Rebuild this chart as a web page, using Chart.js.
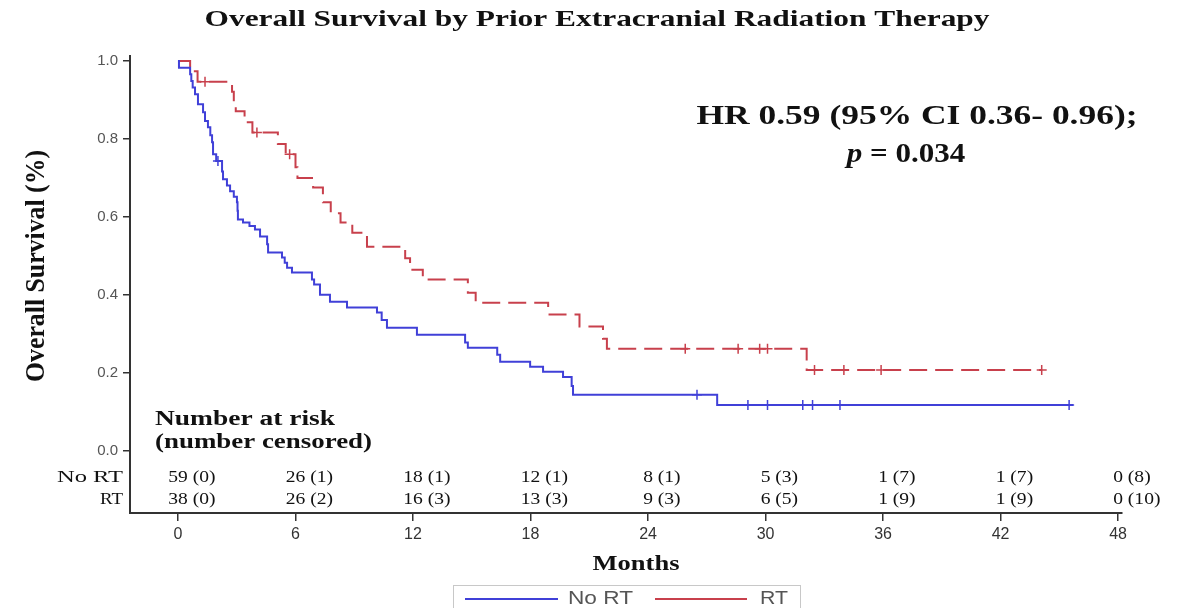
<!DOCTYPE html>
<html>
<head>
<meta charset="utf-8">
<script src="https://cdn.jsdelivr.net/npm/chart.js@4.4.0/dist/chart.umd.min.js"></script>
<style>
  html, body { margin: 0; padding: 0; background: #fff; }
  #wrap { width: 1192px; height: 608px; }
</style>
</head>
<body>
<div id="wrap"><canvas id="km" width="1192" height="608"></canvas></div>
<script>
// Kaplan-Meier steps (months, survival)
const noRtMonths = [0, 0.05, 0.62, 0.68, 0.75, 0.87, 1.02, 1.28, 1.38, 1.53, 1.65, 1.74, 1.79, 1.95, 2.25, 2.30, 2.50, 2.66, 2.85, 3.01, 3.04, 3.06, 3.32, 3.65, 3.93, 4.19, 4.55, 4.60, 5.31, 5.45, 5.57, 5.82, 6.84, 6.95, 7.25, 7.76, 8.63, 10.16, 10.40, 10.67, 12.2, 14.66, 14.8, 16.3, 16.45, 17.98, 18.64, 19.66, 20.10, 20.17, 27.53, 45.7];
const noRtSurv   = [1.0, 0.983, 0.966, 0.949, 0.932, 0.915, 0.889, 0.869, 0.846, 0.830, 0.810, 0.792, 0.761, 0.744, 0.717, 0.697, 0.681, 0.666, 0.652, 0.638, 0.616, 0.594, 0.586, 0.577, 0.568, 0.550, 0.530, 0.509, 0.496, 0.483, 0.470, 0.458, 0.440, 0.427, 0.401, 0.383, 0.368, 0.355, 0.336, 0.316, 0.298, 0.278, 0.265, 0.247, 0.229, 0.216, 0.203, 0.190, 0.167, 0.144, 0.118, 0.118];
const noRtCensored = [2.04, 26.5, 29.1, 30.1, 31.9, 32.4, 33.8, 45.5];

const rtMonths = [0, 0.62, 1.0, 2.76, 2.85, 2.95, 3.4, 3.8, 5.1, 5.5, 6.0, 6.1, 6.9, 7.4, 7.8, 8.3, 8.9, 9.65, 11.6, 11.85, 12.5, 14.8, 15.2, 18.9, 20.5, 21.7, 21.9, 32.1, 44.1];
const rtSurv   = [1.0, 0.974, 0.947, 0.921, 0.896, 0.871, 0.843, 0.817, 0.787, 0.761, 0.728, 0.700, 0.676, 0.638, 0.610, 0.586, 0.560, 0.524, 0.494, 0.465, 0.440, 0.406, 0.380, 0.350, 0.319, 0.288, 0.262, 0.208, 0.208];
const rtCensored = [1.38, 4.03, 5.7, 25.9, 28.6, 29.7, 30.1, 32.5, 34.0, 35.9, 44.1];

const xTicks = [0, 6, 12, 18, 24, 30, 36, 42, 48];
const yTicks = [0, 0.2, 0.4, 0.6, 0.8, 1.0];

// number at risk (number censored)
const riskNoRt = ['59', '26', '18', '12', '8', '5', '1', '1', '0'];
const censNoRt = ['(0)', '(1)', '(1)', '(1)', '(1)', '(3)', '(7)', '(7)', '(8)'];
const riskRt   = ['38', '26', '16', '13', '9', '6', '1', '1', '0'];
const censRt   = ['(0)', '(2)', '(3)', '(3)', '(3)', '(5)', '(9)', '(9)', '(10)'];

const BLUE = '#4040d8';
const RED = '#c8404c';
const SERIF = '"Liberation Serif", "Times New Roman", serif';
const SANS = '"Liberation Sans", Arial, sans-serif';
const SX = 1.15; // the source picture is stretched sideways

function survAt(months, surv, t) {
    let v = surv[0];
    for (let i = 0; i < months.length; i++) {
        if (months[i] <= t) v = surv[i];
    }
    return v;
}

function stepPoints(months, surv) {
    return months.map((m, i) => ({ x: m, y: surv[i] }));
}

function censorPoints(times, months, surv) {
    return times.map(t => ({ x: t, y: survAt(months, surv, t) }));
}

function drawText(ctx, txt, x, y, font, align, width) {
    ctx.save();
    ctx.font = font;
    const w = ctx.measureText(txt).width;
    const sx = width ? width / w : SX;
    ctx.translate(x, y);
    ctx.scale(sx, 1);
    ctx.textAlign = align;
    ctx.textBaseline = 'middle';
    ctx.fillText(txt, 0, 0);
    ctx.restore();
}

const annotations = {
    id: 'annotations',
    afterDraw(chart) {
        const ctx = chart.ctx;
        const xs = chart.scales.x;
        ctx.save();
        ctx.fillStyle = '#111';

        // title
        drawText(ctx, 'Overall Survival by Prior Extracranial Radiation Therapy', 597, 20, 'bold 24px ' + SERIF, 'center', 785);

        // hazard ratio
        drawText(ctx, 'HR 0.59 (95% CI 0.36- 0.96);', 917, 117, 'bold 27px ' + SERIF, 'center', 441);
        ctx.font = 'italic bold 27px ' + SERIF;
        const pw = ctx.measureText('p').width * SX;
        ctx.font = 'bold 27px ' + SERIF;
        const rw = ctx.measureText(' = 0.034').width * SX;
        const px0 = 906 - (pw + rw) / 2;
        drawText(ctx, 'p', px0, 155, 'italic bold 27px ' + SERIF, 'left');
        drawText(ctx, ' = 0.034', px0 + pw, 155, 'bold 27px ' + SERIF, 'left');

        // y axis title
        ctx.save();
        ctx.translate(37, 266);
        ctx.rotate(-Math.PI / 2);
        ctx.font = 'bold 24px ' + SERIF;
        const yt = 'Overall Survival (%)';
        ctx.scale(232 / ctx.measureText(yt).width, 1.1);
        ctx.textAlign = 'center';
        ctx.textBaseline = 'middle';
        ctx.fillText(yt, 0, 0);
        ctx.restore();

        // x axis title
        drawText(ctx, 'Months', 636, 565, 'bold 21px ' + SERIF, 'center', 87);

        // number at risk table
        drawText(ctx, 'Number at risk', 155, 420, 'bold 20px ' + SERIF, 'left', 180);
        drawText(ctx, '(number censored)', 155, 443, 'bold 20px ' + SERIF, 'left', 217);
        drawText(ctx, 'No RT', 123, 478, '17px ' + SERIF, 'right', 66);
        drawText(ctx, 'RT', 123, 500, '17px ' + SERIF, 'right', 23);

        const rowFont = '17px ' + SERIF;
        const rows = [[riskNoRt, censNoRt, 478], [riskRt, censRt, 500]];
        rows.forEach(([risk, cens, y]) => {
            xTicks.forEach((t, i) => {
                ctx.font = rowFont;
                const cw = ctx.measureText(risk[i]).width * SX;
                const left = xs.getPixelForValue(t) - cw / 2;
                drawText(ctx, risk[i] + ' ' + cens[i], left, y, rowFont, 'left');
            });
        });

        // legend
        ctx.strokeStyle = '#c8c8c8';
        ctx.lineWidth = 1;
        ctx.strokeRect(453.5, 585.5, 347, 40);
        const ds = chart.data.datasets;
        ctx.lineWidth = 2;
        ctx.strokeStyle = ds[0].borderColor;
        ctx.beginPath(); ctx.moveTo(465, 599); ctx.lineTo(558, 599); ctx.stroke();
        ctx.strokeStyle = ds[1].borderColor;
        ctx.beginPath(); ctx.moveTo(655, 599); ctx.lineTo(747, 599); ctx.stroke();
        ctx.fillStyle = '#555';
        drawText(ctx, ds[0].label, 568, 599, '18px ' + SANS, 'left', 65);
        drawText(ctx, ds[1].label, 760, 599, '18px ' + SANS, 'left', 28);
        ctx.restore();
    }
};

new Chart(document.getElementById('km'), {
    type: 'line',
    data: {
        datasets: [
            {
                label: 'No RT',
                data: stepPoints(noRtMonths, noRtSurv),
                borderColor: BLUE,
                borderWidth: 2,
                stepped: 'before',
                pointRadius: 0,
                fill: false
            },
            {
                label: 'RT',
                data: stepPoints(rtMonths, rtSurv),
                borderColor: RED,
                borderWidth: 2,
                borderDash: [18, 8],
                stepped: 'before',
                pointRadius: 0,
                fill: false
            },
            {
                label: 'No RT censored',
                data: censorPoints(noRtCensored, noRtMonths, noRtSurv),
                showLine: false,
                pointStyle: 'cross',
                pointRadius: 5,
                pointBorderWidth: 1.5,
                borderColor: BLUE
            },
            {
                label: 'RT censored',
                data: censorPoints(rtCensored, rtMonths, rtSurv),
                showLine: false,
                pointStyle: 'cross',
                pointRadius: 5,
                pointBorderWidth: 1.5,
                borderColor: RED
            }
        ]
    },
    options: {
        responsive: false,
        animation: false,
        layout: { padding: { left: 0, right: 70, top: 56, bottom: 0 } },
        plugins: {
            legend: { display: false },
            tooltip: { enabled: false }
        },
        scales: {
            x: {
                type: 'linear',
                min: -2.45,
                max: 48.2,
                afterBuildTicks: s => { s.ticks = xTicks.map(v => ({ value: v })); },
                afterFit: s => { s.height = 95; },
                grid: { drawOnChartArea: false, drawTicks: true, tickLength: 8, color: '#333', lineWidth: 1.5 },
                border: { display: true, color: '#333', width: 2 },
                ticks: { color: '#333', font: { family: SANS, size: 16 }, padding: 4, maxRotation: 0, autoSkip: false }
            },
            y: {
                min: -0.159,
                max: 1.013,
                afterBuildTicks: s => { s.ticks = yTicks.map(v => ({ value: v })); },
                afterFit: s => { s.width = 130; },
                grid: { drawOnChartArea: false, drawTicks: true, tickLength: 7, color: '#333', lineWidth: 1.5 },
                border: { display: true, color: '#333', width: 2 },
                ticks: { color: '#555', font: { family: SANS, size: 15 }, padding: 5, callback: v => v.toFixed(1) }
            }
        }
    },
    plugins: [annotations]
});
</script>
</body>
</html>
